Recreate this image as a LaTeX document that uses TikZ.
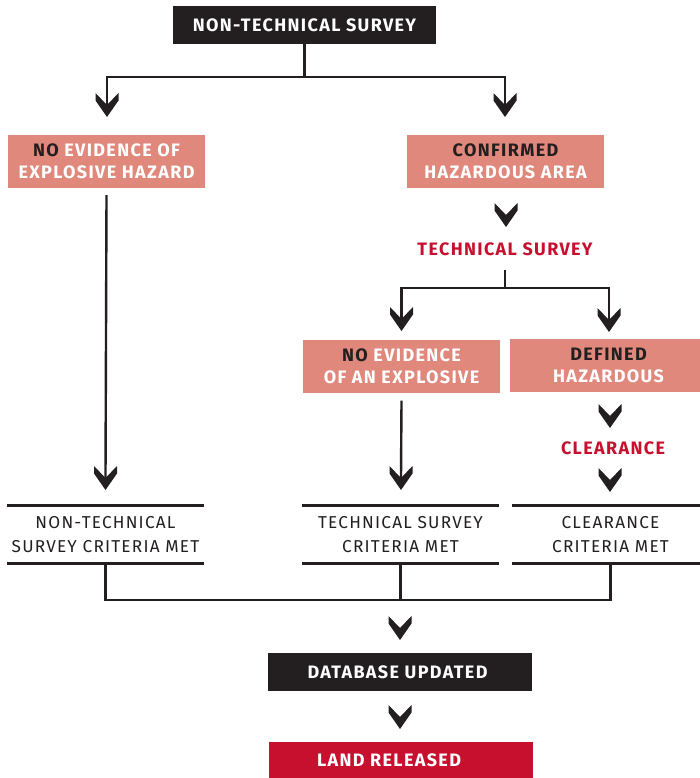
\documentclass[tikz,border=0pt]{standalone}
\usepackage{fontspec}
\usetikzlibrary{calc}
\newfontfamily\headfont{Fira Sans}[LetterSpace=7.5]
\newfontfamily\thinfont{Fira Sans}[LetterSpace=7]
\definecolor{ink}{RGB}{35,31,32}
\definecolor{salmon}{RGB}{224,136,124}
\definecolor{crimson}{RGB}{198,16,46}
\tikzset{
  boldtext/.style={font=\headfont\bfseries\fontsize{18}{21.7}\selectfont},
  blackbox/.style={boldtext, fill=ink, text=white, minimum width=263, minimum height=38, inner sep=0},
  redbox/.style={boldtext, fill=crimson, text=white, minimum width=264, minimum height=37, inner sep=0},
  pinkbox/.style={boldtext, fill=salmon, text=white, align=center, minimum width=197, minimum height=53, inner sep=0},
  redlabel/.style={boldtext, text=crimson, inner sep=0},
  crit/.style={font=\thinfont\fontsize{17.2}{24}\selectfont, text=ink, align=center, minimum width=197, minimum height=57, inner sep=0},
  conn/.style={draw=ink, line width=2.4pt},
  rule/.style={draw=ink, line width=2.7pt},
  chev/.pic={
    \fill[ink] (-11.5,0) -- (0,12) -- (11.5,0) -- (11.5,7.5) -- (0,24) -- (-11.5,7.5) -- cycle;
    \coordinate (-n) at (0,12);
  }
}
\begin{document}
\begin{tikzpicture}[x=1pt, y=-1pt]
\useasboundingbox (0,0) rectangle (700,778);

% boxes and labels
\node[blackbox] (nts) at (304.5,25) {NON-TECHNICAL SURVEY};
\node[pinkbox] (noevA) at (106.5,161.5) {\textcolor{ink}{NO} EVIDENCE OF\\EXPLOSIVE HAZARD};
\node[pinkbox] (conf) at (505.5,161.5) {\textcolor{ink}{CONFIRMED}\\HAZARDOUS AREA};
\node[redlabel] (ts) at (505,249) {TECHNICAL SURVEY};
\node[pinkbox] (noevB) at (401.5,366) {\textcolor{ink}{NO} EVIDENCE\\OF AN EXPLOSIVE};
\node[pinkbox] (defd) at (608.5,365.5) {\textcolor{ink}{DEFINED}\\HAZARDOUS};
\node[redlabel] (clr) at (613,448) {CLEARANCE};
\node[crit] (critA) at (105.5,534.5) {NON-TECHNICAL\\SURVEY CRITERIA MET};
\node[crit] (critB) at (400.5,534.5) {TECHNICAL SURVEY\\CRITERIA MET};
\node[crit] (critC) at (610.5,534.5) {CLEARANCE\\CRITERIA MET};
\node[blackbox, minimum width=264] (db) at (400,672) {DATABASE UPDATED\kern5pt};
\node[redbox] (land) at (401,760.5) {LAND RELEASED\kern24pt};

% rules above and below the criteria labels
\foreach \c in {critA,critB,critC}{
  \draw[rule] (\c.north west) -- (\c.north east);
  \draw[rule] (\c.south west) -- (\c.south east);
}

% junction points
\coordinate (jtop) at (304.5,77);
\coordinate (jts) at (505,288);
\coordinate (jbot) at (400.5,600);

% chevrons
\pic (c1) at (107,93) {chev};
\pic (c2) at (505,93) {chev};
\pic (c3) at (506,203) {chev};
\pic (c4) at (401.5,307) {chev};
\pic (c5) at (609,308) {chev};
\pic (c6) at (105.5,466) {chev};
\pic (c7) at (401,466) {chev};
\pic (c8) at (610,404) {chev};
\pic (c9) at (610,468) {chev};
\pic (c10) at (400,616) {chev};
\pic (c11) at (400,705) {chev};

% connectors
\draw[conn] (nts.south) -- (jtop);
\draw[conn] (c1-n) |- (jtop) -| (c2-n);
\draw[conn] ($(ts.center)+(0,21)$) -- (jts);
\draw[conn] (c4-n) |- (jts) -| (c5-n);
\draw[conn] ($(noevA.south)+(0,7)$) -- (c6-n);
\draw[conn] ($(noevB.south)+(0,8)$) -- (c7-n);
\draw[conn] (critA.south) |- (jbot) -| (critC.south);
\draw[conn] (critB.south) -- (jbot);
\end{tikzpicture}
\end{document}
